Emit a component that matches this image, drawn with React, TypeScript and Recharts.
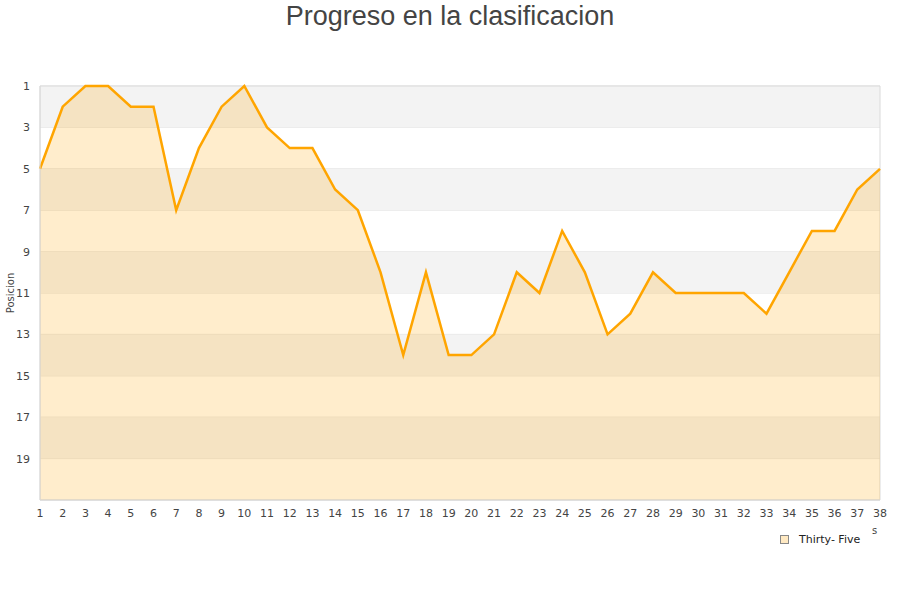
import { AreaChart, Area, XAxis, YAxis, CartesianGrid, ReferenceArea } from 'recharts';

const jornadas = [
  1, 2, 3, 4, 5, 6, 7, 8, 9, 10, 11, 12, 13, 14, 15, 16, 17, 18, 19,
  20, 21, 22, 23, 24, 25, 26, 27, 28, 29, 30, 31, 32, 33, 34, 35, 36, 37, 38,
];
const posiciones = [
  5, 2, 1, 1, 2, 2, 7, 4, 2, 1, 3, 4, 4, 6, 7, 10, 14, 10, 14,
  14, 13, 10, 11, 8, 10, 13, 12, 10, 11, 11, 11, 11, 12, 10, 8, 8, 6, 5,
];
const yTicks = [1, 3, 5, 7, 9, 11, 13, 15, 17, 19];
// grey stripes behind the series
const bandas = [
  [1, 3],
  [5, 7],
  [9, 11],
  [13, 15],
  [17, 19],
];
const serieNombre = 'Thirty- Five';

const data = jornadas.map((j, i) => ({ jornada: j, posicion: posiciones[i] }));

const font = 'DejaVu Sans, Verdana, sans-serif';

export default function App() {
  return (
    <div style={{ position: 'absolute', left: 0, top: 0, width: 900, height: 600, background: '#fff' }}>
      <div
        style={{
          position: 'absolute',
          top: 0,
          width: 900,
          textAlign: 'center',
          fontFamily: 'Liberation Sans, Arial, sans-serif',
          fontSize: 27,
          color: '#444',
          lineHeight: '32px',
        }}
      >
        Progreso en la clasificacion
      </div>
      <AreaChart width={900} height={600} data={data} margin={{ top: 86, right: 20, bottom: 70, left: 10 }}>
        {bandas.map(([a, b], i) => (
          <ReferenceArea key={`b-${i}`} y1={a} y2={b} fill="#f3f3f3" fillOpacity={1} stroke="none" />
        ))}
        <CartesianGrid vertical={false} stroke="#e2e2e2" />
        <ReferenceArea x1={1} x2={38} y1={1} y2={21} fill="none" stroke="#dadada" />
        <XAxis
          dataKey="jornada"
          type="number"
          domain={[1, 38]}
          ticks={jornadas}
          interval={0}
          tickLine={false}
          axisLine={{ stroke: '#dadada' }}
          tick={{ fill: '#444', fontSize: 11, fontFamily: font }}
          tickMargin={3}
        />
        <YAxis
          type="number"
          domain={[1, 21]}
          reversed
          ticks={yTicks}
          interval={0}
          width={30}
          tickLine={false}
          axisLine={{ stroke: '#dadada' }}
          tick={{ fill: '#444', fontSize: 11, fontFamily: font }}
          tickMargin={4}
          label={{
            value: 'Posicion',
            angle: -90,
            position: 'insideLeft',
            offset: 0,
            style: { fill: '#444', fontSize: 10, fontFamily: font, textAnchor: 'middle' },
          }}
        />
        <Area
          type="linear"
          dataKey="posicion"
          baseValue={21}
          stroke="#ffa500"
          strokeWidth={2.5}
          fill="#ffa500"
          fillOpacity={0.2}
          dot={false}
          activeDot={false}
          isAnimationActive={false}
        />
      </AreaChart>
      <div style={{ position: 'absolute', left: 872, top: 525, fontSize: 10, fontFamily: font, color: '#444' }}>s</div>
      <div
        style={{
          position: 'absolute',
          left: 780,
          top: 533,
          display: 'flex',
          alignItems: 'center',
          fontFamily: font,
          fontSize: 11,
          color: '#222',
        }}
      >
        <span
          style={{
            display: 'inline-block',
            width: 7,
            height: 7,
            background: '#ffe9c2',
            border: '1px solid #888',
            marginRight: 10,
          }}
        />
        {serieNombre}
      </div>
    </div>
  );
}
